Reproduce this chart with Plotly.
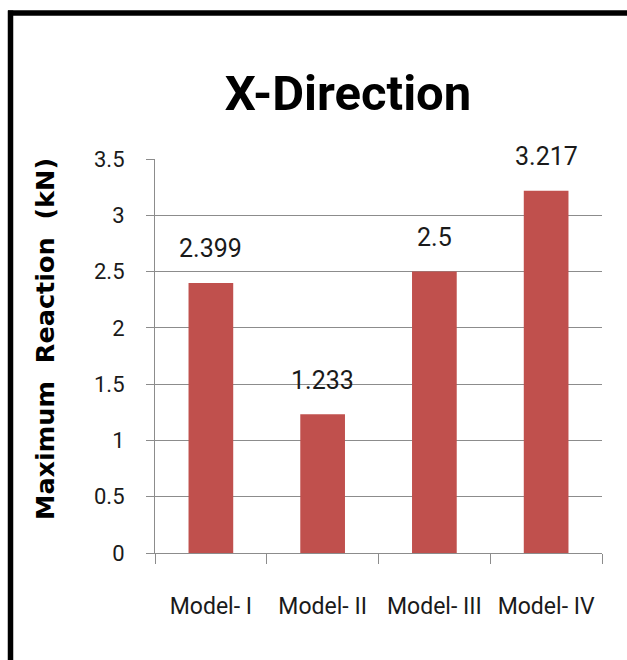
import plotly.graph_objects as go

categories = ["Model- I", "Model- II", "Model- III", "Model- IV"]
values = [2.399, 1.233, 2.5, 3.217]
value_labels = ["2.399", "1.233", "2.5", "3.217"]
y_ticks = [0, 0.5, 1, 1.5, 2, 2.5, 3, 3.5]
y_tick_labels = ["0", "0.5", "1", "1.5", "2", "2.5", "3", "3.5"]

NARROW = "Roboto, Liberation Sans, sans-serif"
W, H = 627, 660
L, R, T, B = 155, 25, 159, 107
pw, ph = W - L - R, H - T - B

def px_to_paper_x(px):
    return (px - L) / pw

def px_to_paper_y(py):
    return (H - B - py) / ph

fig = go.Figure()
fig.add_trace(go.Bar(
    x=categories, y=values,
    marker=dict(color="#C0504D", line=dict(width=0)),
    hoverinfo="skip",
))

for c, v, t in zip(categories, values, value_labels):
    fig.add_annotation(x=c, y=v, text=t, showarrow=False, yshift=34,
                       font=dict(family=NARROW, size=25, color="#1a1a1a"))

fig.add_annotation(xref="paper", yref="paper",
                   x=px_to_paper_x(45), y=px_to_paper_y(339),
                   text="<b>Maximum  Reaction  (kN)</b>", textangle=-90,
                   showarrow=False, xanchor="center", yanchor="middle",
                   font=dict(family="DejaVu Sans", size=25.5, color="#000000"))

# thick black frame: only its top and left edges fall inside the canvas
fig.add_shape(type="line", xref="paper", yref="paper",
              x0=px_to_paper_x(8), x1=px_to_paper_x(900),
              y0=px_to_paper_y(13), y1=px_to_paper_y(13),
              line=dict(color="#000000", width=5.5), layer="above")
fig.add_shape(type="line", xref="paper", yref="paper",
              x0=px_to_paper_x(10.5), x1=px_to_paper_x(10.5),
              y0=px_to_paper_y(10.5), y1=px_to_paper_y(900),
              line=dict(color="#000000", width=5.5), layer="above")

fig.update_layout(
    width=W, height=H,
    margin=dict(l=L, r=R, t=T, b=B, autoexpand=False),
    paper_bgcolor="white", plot_bgcolor="white",
    showlegend=False,
    bargap=0.6,
    title=dict(text="<b>X-Direction</b>", x=348 / W, xanchor="center",
               y=1 - 93 / H, yanchor="middle", yref="container",
               font=dict(family=NARROW, size=49, color="#000000")),
    xaxis=dict(
        automargin=False, tickangle=0,
        showline=True, linecolor="#8c8c8c", linewidth=1.2,
        ticks="outside", tickson="boundaries", ticklen=10, tickcolor="#8c8c8c",
        tickwidth=1.2, ticklabelstandoff=32,
        tickfont=dict(family=NARROW, size=23, color="#1a1a1a"),
        showgrid=False,
    ),
    yaxis=dict(
        automargin=False,
        range=[0, 3.5], tickvals=y_ticks, ticktext=y_tick_labels,
        showline=True, linecolor="#8c8c8c", linewidth=1.2,
        ticks="outside", ticklen=8, tickcolor="#8c8c8c", tickwidth=1.2,
        ticklabelstandoff=17,
        showgrid=True, gridcolor="#8c8c8c", gridwidth=1.2,
        zeroline=False,
        tickfont=dict(family=NARROW, size=22, color="#1a1a1a"),
    ),
)

fig.write_html("out.html",
               config={"displayModeBar": False},
               post_script="document.body.style.margin='0';document.body.style.overflow='hidden';")
